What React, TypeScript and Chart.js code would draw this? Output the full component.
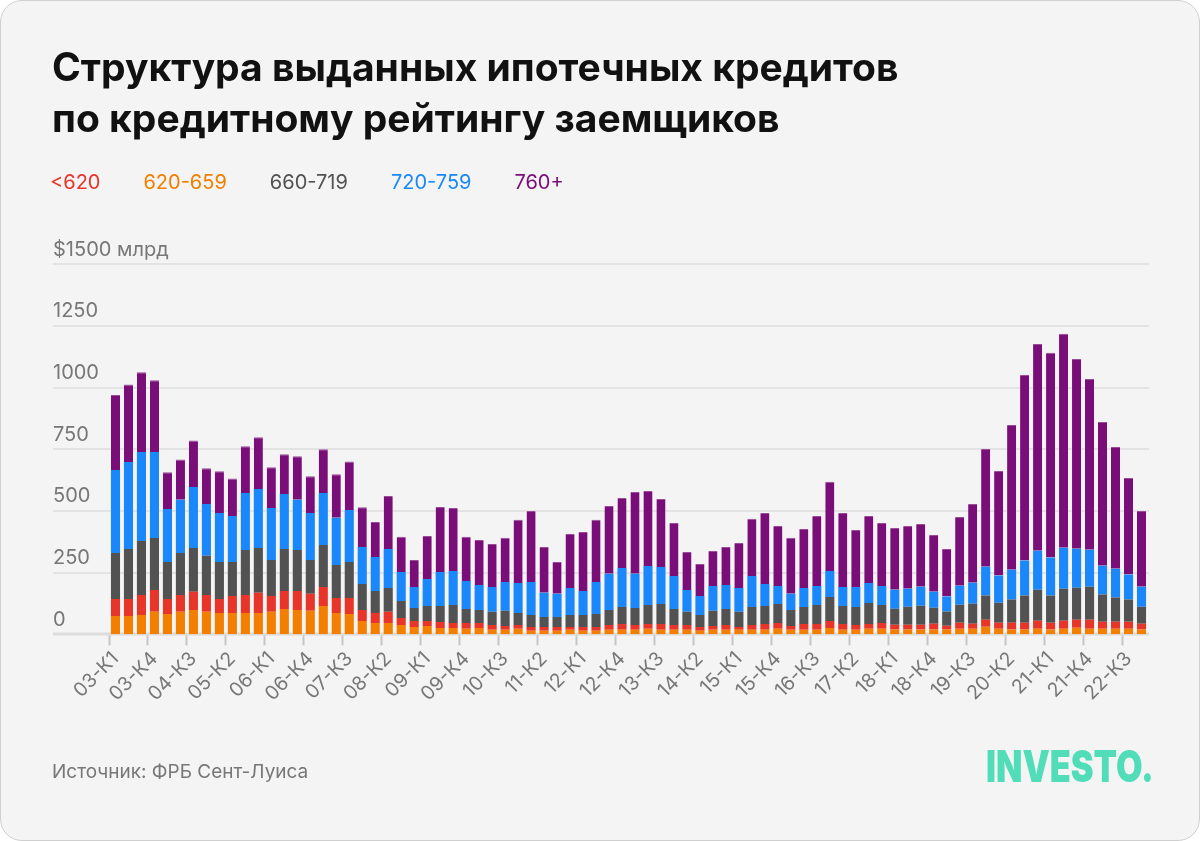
import React, { useEffect, useRef } from "react";
import { Chart, registerables } from "chart.js";

Chart.register(...registerables);

const categories: string[] = [
  "03-К1","03-К2","03-К3","03-К4","04-К1","04-К2","04-К3","04-К4",
  "05-К1","05-К2","05-К3","05-К4","06-К1","06-К2","06-К3","06-К4",
  "07-К1","07-К2","07-К3","07-К4","08-К1","08-К2","08-К3","08-К4",
  "09-К1","09-К2","09-К3","09-К4","10-К1","10-К2","10-К3","10-К4",
  "11-К1","11-К2","11-К3","11-К4","12-К1","12-К2","12-К3","12-К4",
  "13-К1","13-К2","13-К3","13-К4","14-К1","14-К2","14-К3","14-К4",
  "15-К1","15-К2","15-К3","15-К4","16-К1","16-К2","16-К3","16-К4",
  "17-К1","17-К2","17-К3","17-К4","18-К1","18-К2","18-К3","18-К4",
  "19-К1","19-К2","19-К3","19-К4","20-К1","20-К2","20-К3","20-К4",
  "21-К1","21-К2","21-К3","21-К4","22-К1","22-К2","22-К3","22-К4",
];

// 620-659 (orange, bottom)
const s620_659: number[] = [
  74,74,78,91,82,91,99,91,86,86,86,86,91,103,99,95,115,86,82,54,
  46,46,38,30,34,26,26,22,26,18,18,22,14,14,14,18,14,14,18,18,
  18,22,18,18,18,14,18,18,18,18,18,22,18,18,18,26,18,18,22,22,
  19,19,19,19,19,23,23,31,23,19,19,23,19,23,27,23,23,23,23,19,
];
// <620 (red)
const sBelow620: number[] = [
  69,69,81,89,61,68,73,68,57,69,73,82,64,73,77,69,77,61,65,45,
  40,45,28,24,20,24,20,24,20,20,16,16,16,16,16,12,16,16,20,24,
  20,20,24,20,20,16,16,20,12,20,24,24,16,24,24,28,24,20,20,24,
  20,20,20,24,16,24,20,28,24,28,28,32,28,32,32,36,28,28,28,24,
];
// 660-719 (gray)
const s660_719: number[] = [
  187,203,219,210,150,171,178,159,150,138,183,182,146,170,166,137,170,134,146,105,
  90,97,69,53,61,65,73,57,53,53,61,48,48,40,40,48,48,52,61,69,
  69,77,81,65,53,48,61,65,61,73,73,77,65,69,77,97,73,73,85,73,
  65,73,77,65,57,73,81,98,81,94,110,126,110,130,130,134,110,98,90,69,
];
// 720-759 (blue)
const s720_759: number[] = [
  336,353,361,349,215,215,247,210,199,187,231,239,211,223,203,191,211,191,211,150,
  137,158,118,85,109,138,138,113,101,101,117,122,134,98,94,110,98,130,146,158,
  138,158,150,133,89,77,101,97,97,125,89,73,65,77,77,106,77,81,81,77,
  77,73,77,65,61,77,85,117,110,121,142,158,154,166,158,150,117,117,101,81,
];
// 760+ (purple, top)
const s760plus: number[] = [
  304,314,323,291,149,164,189,145,169,152,189,210,165,161,177,149,177,177,197,161,
  142,215,142,109,175,263,255,179,182,174,179,256,288,186,129,219,239,252,275,284,
  332,304,276,215,154,130,142,154,182,232,288,243,227,239,284,361,300,231,272,255,
  250,254,254,230,193,279,319,477,424,587,752,838,830,867,769,692,583,493,392,307,
];

const yTickValues: number[] = [0, 250, 500, 750, 1000, 1250, 1500];
const yTickLabels: string[] = ["0", "250", "500", "750", "1000", "1250", "$1500 млрд"];

const legendItems: { label: string; color: string }[] = [
  { label: "<620", color: "#E8352A" },
  { label: "620-659", color: "#F27F00" },
  { label: "660-719", color: "#525252" },
  { label: "720-759", color: "#1A88FA" },
  { label: "760+", color: "#7A0E78" },
];

const FONT = "Inter, 'Noto Sans', Roboto, sans-serif";

const gridPlugin = {
  id: "customGrid",
  beforeDatasetsDraw(chart: any) {
    const { ctx, chartArea, scales } = chart;
    const y = scales.y;
    ctx.save();
    yTickValues.forEach((v) => {
      const py = Math.round(y.getPixelForValue(v));
      ctx.strokeStyle = v === 0 ? "#dcdcdc" : "#e3e3e3";
      ctx.lineWidth = v === 0 ? 3 : 2;
      ctx.beginPath();
      ctx.moveTo(52, py);
      ctx.lineTo(chartArea.right + 1, py);
      ctx.stroke();
    });
    ctx.restore();
  },
  afterDraw(chart: any) {
    const { ctx, scales } = chart;
    const y = scales.y;
    ctx.save();
    ctx.fillStyle = "#777777";
    ctx.font = `20px ${FONT}`;
    ctx.textAlign = "left";
    ctx.textBaseline = "alphabetic";
    yTickValues.forEach((v, i) => {
      const py = y.getPixelForValue(v);
      ctx.fillText(yTickLabels[i], 52, py - 8.5);
    });
    ctx.restore();
  },
};

function ChartCanvas() {
  const ref = useRef<HTMLCanvasElement | null>(null);
  useEffect(() => {
    if (!ref.current) return;
    const mk = (label: string, data: number[], color: string, top?: string) => ({
      label,
      data,
      backgroundColor: color,
      borderColor: top || color,
      borderWidth: top ? { top: 1, left: 0, right: 0, bottom: 0 } : 0,
      borderSkipped: "bottom" as const,
      barPercentage: 0.7,
      categoryPercentage: 1,
      stack: "s",
    });
    const chart = new Chart(ref.current, {
      type: "bar",
      data: {
        labels: categories,
        datasets: [
          mk("620-659", s620_659, "#F27F00"),
          mk("<620", sBelow620, "#E8352A"),
          mk("660-719", s660_719, "#525252"),
          mk("720-759", s720_759, "#1A88FA"),
          mk("760+", s760plus, "#7A0E78", "#9C4A9A"),
        ],
      },
      options: {
        responsive: false,
        animation: false,
        events: [],
        layout: { padding: { left: 108, right: 53, top: 263.3, bottom: 87.7 } },
        plugins: { legend: { display: false }, tooltip: { enabled: false } },
        scales: {
          x: {
            stacked: true,
            offset: true,
            border: { display: false },
            grid: {
              drawOnChartArea: false,
              drawTicks: true,
              tickLength: 11,
              tickWidth: 2,
              tickColor: (c: any) => (c.index % 3 === 0 ? "#c6c6c6" : "rgba(0,0,0,0)"),
            },
            ticks: {
              autoSkip: false,
              maxRotation: 45,
              minRotation: 45,
              padding: 2,
              color: "#777777",
              font: { family: FONT, size: 19.5 },
              callback: (_v: any, i: number) => (i % 3 === 0 ? categories[i] : ""),
            },
            afterFit: (scale: any) => {
              scale.height = 120;
            },
          },
          y: {
            stacked: true,
            display: false,
            min: 0,
            max: 1500,
          },
        },
      },
      plugins: [gridPlugin],
    } as any);
    return () => chart.destroy();
  }, []);
  return (
    <canvas
      ref={ref}
      width={1200}
      height={841}
      style={{ position: "absolute", left: 0, top: 0, width: 1200, height: 841 }}
    />
  );
}

export default function App() {
  useEffect(() => {
    document.body.style.margin = "0";
    document.body.style.background = "#ffffff";
  }, []);
  return (
    <div
      style={{
        position: "relative",
        width: 1200,
        height: 841,
        boxSizing: "border-box",
        background: "#f4f4f4",
        border: "1px solid #cfcfcf",
        borderRadius: 22,
        overflow: "hidden",
        fontFamily: FONT,
      }}
    >
      <ChartCanvas />
      <div
        style={{
          position: "absolute",
          left: 51,
          top: 40,
          fontSize: 39,
          lineHeight: "51px",
          fontWeight: 700,
          color: "#111111",
          letterSpacing: 0,
          whiteSpace: "nowrap",
        }}
      >
        Структура выданных ипотечных кредитов
        <br />
        по кредитному рейтингу заемщиков
      </div>
      <div
        style={{
          position: "absolute",
          left: 49,
          top: 169,
          display: "flex",
          gap: 43,
          fontSize: 20,
          lineHeight: "24px",
        }}
      >
        {legendItems.map((it) => (
          <span key={it.label} style={{ color: it.color }}>
            {it.label}
          </span>
        ))}
      </div>
      <div
        style={{
          position: "absolute",
          left: 51,
          top: 759,
          fontSize: 19,
          lineHeight: "24px",
          color: "#777777",
        }}
      >
        Источник: ФРБ Сент-Луиса
      </div>
      <div
        style={{
          position: "absolute",
          left: 985,
          top: 740,
          fontSize: 44,
          lineHeight: "50px",
          fontWeight: 900,
          color: "#50DDB8",
          fontFamily: FONT,
          letterSpacing: 0,
          transform: "scaleX(0.78)",
          transformOrigin: "left center",
          whiteSpace: "nowrap",
        }}
      >
        INVESTO.
      </div>
    </div>
  );
}
